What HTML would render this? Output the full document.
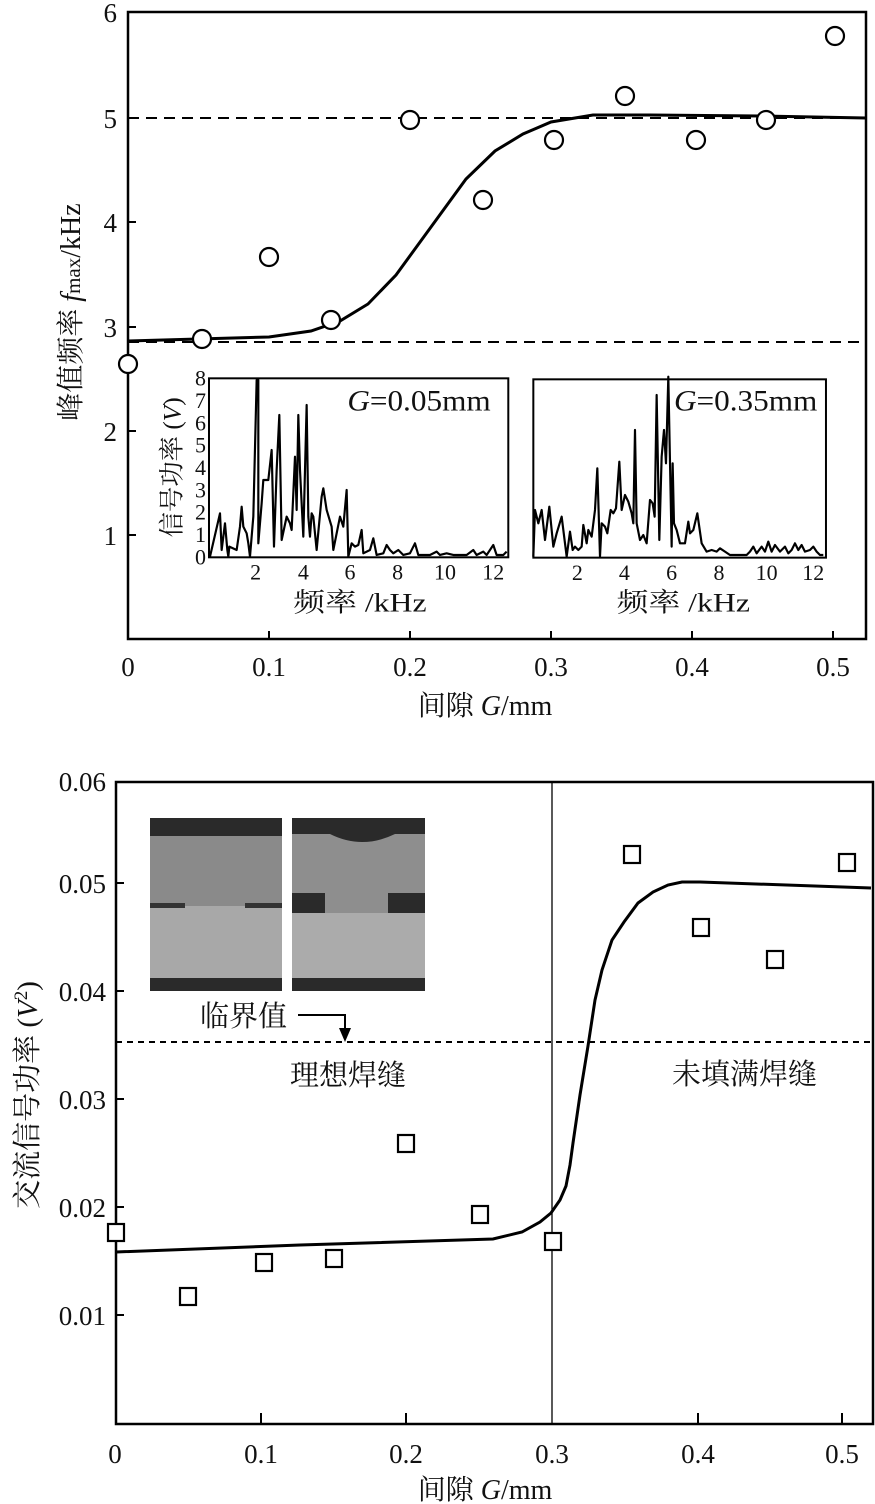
<!DOCTYPE html>
<html><head><meta charset="utf-8"><style>
html,body{margin:0;padding:0;background:#fff;}
svg{display:block;}
text{font-family:"Liberation Serif","Noto Serif CJK SC","Noto Sans CJK SC",serif;fill:#111;}
</style></head><body>
<svg width="875" height="1504" viewBox="0 0 875 1504" xmlns="http://www.w3.org/2000/svg">
<!-- TOP CHART -->
<rect x="128" y="12" width="738" height="627" fill="none" stroke="#000" stroke-width="2.5"/>
<g stroke="#000" stroke-width="2">
<line x1="128" y1="535" x2="136" y2="535"/><line x1="128" y1="431" x2="136" y2="431"/><line x1="128" y1="327" x2="136" y2="327"/><line x1="128" y1="222" x2="136" y2="222"/><line x1="128" y1="118" x2="136" y2="118"/>
<line x1="269" y1="639" x2="269" y2="631"/><line x1="410" y1="639" x2="410" y2="631"/><line x1="551" y1="639" x2="551" y2="631"/><line x1="692" y1="639" x2="692" y2="631"/><line x1="833" y1="639" x2="833" y2="631"/>
</g>
<g font-size="27" text-anchor="end">
<text x="117" y="22">6</text><text x="117" y="128">5</text><text x="117" y="232">4</text><text x="117" y="337">3</text><text x="117" y="441">2</text><text x="117" y="545">1</text>
</g>
<g font-size="27" text-anchor="middle">
<text x="128" y="676">0</text><text x="269" y="676">0.1</text><text x="410" y="676">0.2</text><text x="551" y="676">0.3</text><text x="692" y="676">0.4</text><text x="833" y="676">0.5</text>
</g>
<text x="485" y="715" font-size="28" text-anchor="middle">间隙 <tspan font-style="italic">G</tspan>/mm</text>
<text transform="translate(80,312) rotate(-90)" font-size="28" text-anchor="middle">峰值频率 <tspan font-style="italic">f</tspan><tspan font-size="21">max</tspan>/kHz</text>
<line x1="128" y1="118" x2="866" y2="118" stroke="#000" stroke-width="2" stroke-dasharray="11,7"/>
<line x1="128" y1="342" x2="866" y2="342" stroke="#000" stroke-width="2" stroke-dasharray="11,7"/>
<polyline fill="none" stroke="#000" stroke-width="3" points="128,341 269,337 311,331 340,321 368,304 396,275 431,227 466,179 495,151 523,134 551,122 593,115 650,115 760,116 866,118"/>
<g fill="#fff" stroke="#000" stroke-width="2.2">
<circle cx="128" cy="364" r="9"/><circle cx="202" cy="339" r="9"/><circle cx="269" cy="257" r="9"/><circle cx="331" cy="320" r="9"/><circle cx="410" cy="120" r="9"/><circle cx="483" cy="200" r="9"/><circle cx="554" cy="140" r="9"/><circle cx="625" cy="96" r="9"/><circle cx="696" cy="140" r="9"/><circle cx="766" cy="120" r="9"/><circle cx="835" cy="36" r="9"/>
</g>
<!-- inset 1 -->
<g transform="translate(140,370) scale(0.3333)">
<rect x="207" y="25" width="898" height="537" fill="#fff" stroke="#000" stroke-width="6"/>
<polyline fill="none" stroke="#000" stroke-width="6.5" stroke-linejoin="round" points="210,560 240,430 245,540 255,460 262,540 265,560 268,530 290,540 300,470 305,410 310,470 320,490 325,520 330,560 340,440 350,30 355,30 355,520 365,400 370,330 385,330 395,240 402,530 410,300 418,135 425,510 440,440 450,460 455,480 465,260 470,420 475,135 480,300 490,500 500,105 505,440 510,500 515,430 520,440 530,540 545,380 550,355 560,420 575,470 580,540 600,440 610,470 620,360 625,560 635,520 645,530 655,525 665,480 670,550 690,540 700,505 710,555 730,550 740,525 750,540 760,550 775,540 790,555 810,550 825,520 835,555 870,555 890,545 900,555 920,550 940,555 980,555 1000,540 1010,555 1030,545 1040,555 1060,525 1070,555 1090,555 1100,545"/>
<g font-size="66" text-anchor="end">
<text x="198" y="583">0</text><text x="198" y="516">1</text><text x="198" y="449">2</text><text x="198" y="382">3</text><text x="198" y="315">4</text><text x="198" y="248">5</text><text x="198" y="181">6</text><text x="198" y="114">7</text><text x="198" y="47">8</text>
</g>
<g font-size="66" text-anchor="middle">
<text x="347" y="628">2</text><text x="490" y="628">4</text><text x="630" y="628">6</text><text x="773" y="628">8</text><text x="915" y="628">10</text><text x="1060" y="628">12</text>
</g>
<text x="460" y="725" font-size="80" textLength="400" lengthAdjust="spacingAndGlyphs">频率 /kHz</text>
<text x="622" y="122" font-size="90" textLength="430" lengthAdjust="spacingAndGlyphs"><tspan font-style="italic">G</tspan>=0.05mm</text>
<text transform="translate(122,292) rotate(-90)" font-size="76" text-anchor="middle">信号功率 (<tspan font-style="italic">V</tspan>)</text>
</g>
<!-- inset 2 -->
<g transform="translate(520,370) scale(0.3333)">
<rect x="40" y="28" width="878" height="535" fill="#fff" stroke="#000" stroke-width="6"/>
<polyline fill="none" stroke="#000" stroke-width="6.5" stroke-linejoin="round" points="40,560 45,420 55,460 65,420 75,510 88,410 100,530 110,490 125,440 135,520 140,560 150,485 158,540 165,530 175,540 185,530 190,465 200,520 205,480 215,500 225,420 232,295 240,560 245,460 255,470 262,490 272,420 280,430 288,415 298,275 305,420 315,375 325,395 335,430 340,460 345,180 350,460 360,510 370,495 380,520 390,390 398,400 404,440 410,75 418,510 425,260 432,180 438,280 445,20 455,530 458,280 462,460 470,480 480,520 495,520 505,455 510,490 520,480 532,430 545,520 560,545 575,540 590,545 600,535 615,545 630,555 680,555 690,545 700,530 710,550 725,530 735,545 745,515 755,545 765,525 780,545 795,530 805,550 815,540 825,520 835,540 845,525 855,545 870,540 880,530 890,545 900,555 910,555"/>
<g font-size="66" text-anchor="middle">
<text x="172" y="630">2</text><text x="313" y="630">4</text><text x="455" y="630">6</text><text x="597" y="630">8</text><text x="740" y="630">10</text><text x="880" y="630">12</text>
</g>
<text x="290" y="725" font-size="80" textLength="400" lengthAdjust="spacingAndGlyphs">频率 /kHz</text>
<text x="462" y="122" font-size="90" textLength="430" lengthAdjust="spacingAndGlyphs"><tspan font-style="italic">G</tspan>=0.35mm</text>
</g>

<!-- BOTTOM CHART -->
<rect x="116" y="782" width="757" height="642" fill="none" stroke="#000" stroke-width="2.5"/>
<line x1="552" y1="782" x2="552" y2="1424" stroke="#000" stroke-width="1.3"/>
<g stroke="#000" stroke-width="2">
<line x1="116" y1="1315" x2="124" y2="1315"/><line x1="116" y1="1207" x2="124" y2="1207"/><line x1="116" y1="1099" x2="124" y2="1099"/><line x1="116" y1="991" x2="124" y2="991"/><line x1="116" y1="883" x2="124" y2="883"/>
<line x1="261" y1="1424" x2="261" y2="1413"/><line x1="406" y1="1424" x2="406" y2="1413"/><line x1="698" y1="1424" x2="698" y2="1413"/><line x1="842" y1="1424" x2="842" y2="1413"/>
</g>
<g font-size="27" text-anchor="end">
<text x="106" y="791">0.06</text><text x="106" y="893">0.05</text><text x="106" y="1001">0.04</text><text x="106" y="1109">0.03</text><text x="106" y="1217">0.02</text><text x="106" y="1325">0.01</text>
</g>
<g font-size="27" text-anchor="middle">
<text x="115" y="1463">0</text><text x="261" y="1463">0.1</text><text x="406" y="1463">0.2</text><text x="552" y="1463">0.3</text><text x="698" y="1463">0.4</text><text x="842" y="1463">0.5</text>
</g>
<text x="485" y="1499" font-size="28" text-anchor="middle">间隙 <tspan font-style="italic">G</tspan>/mm</text>
<text transform="translate(37,1095) rotate(-90)" font-size="29" text-anchor="middle">交流信号功率 (<tspan font-style="italic">V</tspan><tspan font-size="19" dy="-10">2</tspan><tspan dy="10">)</tspan></text>
<!-- photos -->
<rect x="150" y="818" width="132" height="173" fill="#8a8a8a"/>
<rect x="150" y="906" width="132" height="73" fill="#a8a8a8"/>
<rect x="150" y="818" width="132" height="18" fill="#2a2a2a"/>
<rect x="150" y="978" width="132" height="13" fill="#2a2a2a"/>
<rect x="150" y="903" width="35" height="5" fill="#333"/><rect x="245" y="903" width="37" height="5" fill="#333"/>
<rect x="292" y="818" width="133" height="173" fill="#8e8e8e"/>
<rect x="292" y="913" width="133" height="66" fill="#ababab"/>
<rect x="292" y="818" width="133" height="16" fill="#2a2a2a"/>
<path d="M330,834 Q362,850 395,834 Z" fill="#2a2a2a"/>
<rect x="292" y="893" width="33" height="20" fill="#2a2a2a"/><rect x="388" y="893" width="37" height="20" fill="#2a2a2a"/>
<rect x="292" y="978" width="133" height="13" fill="#2a2a2a"/>
<line x1="116" y1="1042" x2="873" y2="1042" stroke="#000" stroke-width="2" stroke-dasharray="6,5"/>
<text x="200" y="1026" font-size="29">临界值</text>
<polyline points="298,1015 345,1015 345,1030" fill="none" stroke="#000" stroke-width="2"/>
<polygon points="339,1028 351,1028 345,1042" fill="#000"/>
<text x="290" y="1085" font-size="29">理想焊缝</text>
<text x="672" y="1084" font-size="29">未填满焊缝</text>
<polyline fill="none" stroke="#000" stroke-width="3" points="116,1252 300,1245 493,1239 522,1232 540,1222 551,1213 560,1200 566,1186 570,1165 573,1143 580,1095 588,1046 595,1000 602,970 612,940 624,922 638,903 653,892 668,885 682,882 700,882 871,888"/>
<g fill="#fff" stroke="#000" stroke-width="2.2">
<rect x="108" y="1224" width="16" height="17"/><rect x="180" y="1288" width="16" height="17"/><rect x="256" y="1254" width="16" height="17"/><rect x="326" y="1250" width="16" height="17"/><rect x="398" y="1135" width="16" height="17"/><rect x="472" y="1206" width="16" height="17"/><rect x="545" y="1233" width="16" height="17"/><rect x="624" y="846" width="16" height="17"/><rect x="693" y="919" width="16" height="17"/><rect x="767" y="951" width="16" height="17"/><rect x="839" y="854" width="16" height="17"/>
</g>
</svg>
</body></html>
